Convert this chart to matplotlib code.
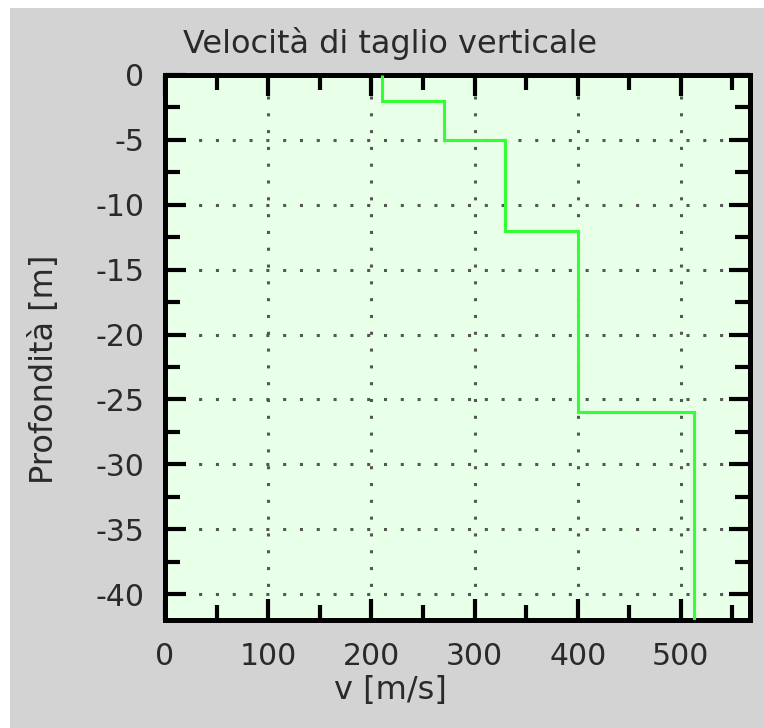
import matplotlib
matplotlib.use("Agg")
import matplotlib.pyplot as plt
from matplotlib.patches import Rectangle
from matplotlib.ticker import MultipleLocator

# layer boundaries (m, negative = depth) and shear velocity (m/s)
layer_edges = [0, -2, -5, -12, -26, -42]
vs = [210, 270, 330, 400, 513]

title = "Velocità di taglio verticale"
xlabel = "v [m/s]"
ylabel = "Profondità [m]"

plt.rcParams['font.family'] = ['DejaVu Sans']
plt.rcParams['axes.unicode_minus'] = False

fig = plt.figure(figsize=(7.64, 7.28), dpi=100)
fig.patches.append(Rectangle((10/764, 0), 1, 1 - 8/728, transform=fig.transFigure,
                             facecolor='#d3d3d3', edgecolor='none', zorder=-10))

ax = fig.add_axes([165/764, 1 - 620/728, (750-165)/764, (620-75)/728])
ax.set_facecolor('#e8ffe8')

# reverse so edges increase
ax.stairs(vs[::-1], layer_edges[::-1], orientation='horizontal', baseline=None,
          color='#33ff33', linewidth=2.2, zorder=3)

ax.set_xlim(0, 567)
ax.set_ylim(-42, 0)
ax.xaxis.set_major_locator(MultipleLocator(100))
ax.xaxis.set_minor_locator(MultipleLocator(50))
ax.yaxis.set_major_locator(MultipleLocator(5))
ax.yaxis.set_minor_locator(MultipleLocator(2.5))

ax.grid(True, which='major', linestyle=(0, (1, 4.5)), color='#555555', linewidth=2.2)
ax.tick_params(which='both', direction='in', top=True, right=True, colors='black',
               labelcolor='#2a2a2a', labelsize=21.5)
ax.tick_params(which='major', length=15, width=3)
ax.tick_params(which='minor', length=10.5, width=3)
ax.tick_params(axis='x', pad=16)
ax.tick_params(axis='y', pad=15)
for s in ax.spines.values():
    s.set_linewidth(3.6)
    s.set_color('black')

# labels sit left of the axes centre in the original
ax.set_title(title, fontsize=23, color='#2a2a2a', pad=16, x=0.385)
ax.set_xlabel(xlabel, fontsize=23, color='#2a2a2a', labelpad=3, x=0.386)
ax.set_ylabel(ylabel, fontsize=23, color='#2a2a2a')
ax.yaxis.set_label_coords(-0.18, 0.46)

fig.savefig("out.png", dpi=100)
